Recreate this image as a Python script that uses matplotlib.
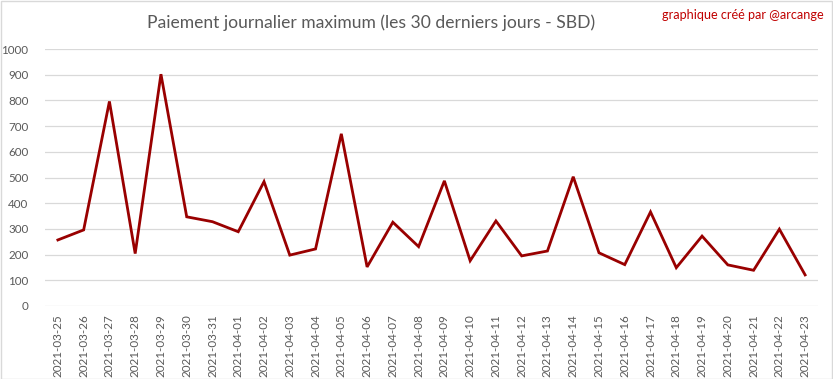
import matplotlib
matplotlib.use("Agg")
import matplotlib.pyplot as plt
from matplotlib.patches import Rectangle

plt.rcParams['font.family'] = ['Lato', 'DejaVu Sans']

dates = ['2021-03-25', '2021-03-26', '2021-03-27', '2021-03-28', '2021-03-29',
         '2021-03-30', '2021-03-31', '2021-04-01', '2021-04-02', '2021-04-03',
         '2021-04-04', '2021-04-05', '2021-04-06', '2021-04-07', '2021-04-08',
         '2021-04-09', '2021-04-10', '2021-04-11', '2021-04-12', '2021-04-13',
         '2021-04-14', '2021-04-15', '2021-04-16', '2021-04-17', '2021-04-18',
         '2021-04-19', '2021-04-20', '2021-04-21', '2021-04-22', '2021-04-23']
max_payout = [257, 296, 796, 204, 902, 347, 328, 289, 484, 198,
              222, 670, 152, 326, 231, 487, 176, 331, 195, 214,
              503, 207, 161, 366, 149, 272, 160, 139, 299, 121]
y_ticks = [0, 100, 200, 300, 400, 500, 600, 700, 800, 900, 1000]

W, H = 833, 379
fig = plt.figure(figsize=(W / 100, H / 100), dpi=100)
ax = fig.add_axes([45 / W, 1 - 306 / H, 773 / W, 257 / H])

x = list(range(len(dates)))
ax.plot(x, max_payout, color='#990000', lw=2.0, solid_joinstyle='miter', zorder=3)

ax.set_xlim(-0.5, len(dates) - 0.5)
ax.set_ylim(0, 1000)
ax.set_yticks(y_ticks)
ax.set_yticklabels([str(v) for v in y_ticks])
ax.set_xticks(x)
ax.set_xticklabels(dates, rotation=90)
ax.tick_params(axis='both', length=0, labelsize=8.4, colors='#595959')
ax.tick_params(axis='y', pad=12)
ax.tick_params(axis='x', pad=6)
ax.yaxis.grid(True, color='#d9d9d9', lw=0.9)
ax.set_axisbelow(True)
for s in ax.spines.values():
    s.set_visible(False)

fig.text(371 / W, 1 - 23 / H, 'Paiement journalier maximum (les 30 derniers jours - SBD)',
         ha='center', va='center', fontsize=12.6, color='#595959')
fig.text(824 / W, 1 - 15 / H, 'graphique créé par @arcange',
         ha='right', va='center', fontsize=9.1, color='#c00000')

fig.patches.append(Rectangle((0.5 / W, 0.5 / H), 1 - 1.5 / W, 1 - 1.5 / H,
                             transform=fig.transFigure, fill=False,
                             edgecolor='#d9d9d9', lw=1))

fig.savefig('out.png', dpi=100)
